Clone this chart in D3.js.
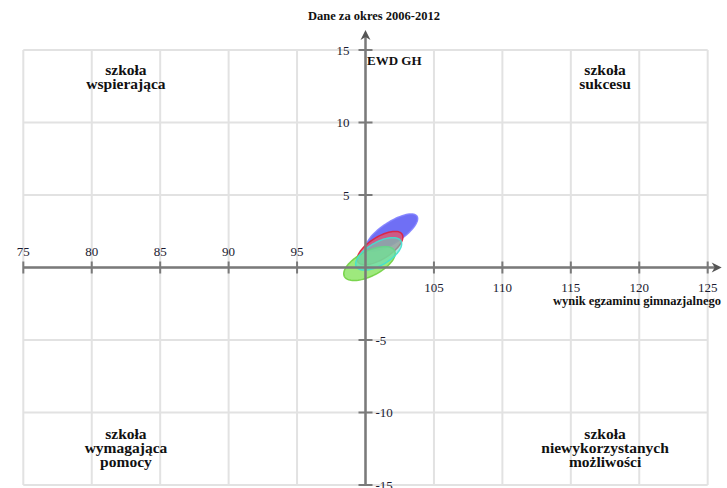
<!DOCTYPE html>
<html><head><meta charset="utf-8">
<script src="https://cdn.jsdelivr.net/npm/d3@7"></script>
<style>
html,body{margin:0;padding:0;background:#fff;}
svg{display:block;font-family:"Liberation Serif","Times New Roman",serif;}
</style></head>
<body>
<svg id="chart" width="727" height="488"></svg>
<script>
// ---- data ----
const title = "Dane za okres 2006-2012";
const yTitle = "EWD GH";
const xTitle = "wynik egzaminu gimnazjalnego";
const xTicks = [75, 80, 85, 90, 95, 100, 105, 110, 115, 120, 125];
const yTicks = [-15, -10, -5, 0, 5, 10, 15];
const quadrantLabels = [
  ["szkoła", "wspierająca"],
  ["szkoła", "sukcesu"],
  ["szkoła", "wymagająca", "pomocy"],
  ["szkoła", "niewykorzystanych", "możliwości"]
];
const quadrantX = [82.5, 117.5, 82.5, 117.5];
const quadrantY = [13.3, 13.3, -11.8, -11.8];
// ellipses: mean exam score, mean EWD, spread x, spread y, correlation
const ellipseMeanX = [101.93, 101.06, 100.96, 100.29];
const ellipseMeanY = [2.41, 1.34, 0.94, 0.27];
const ellipseSdX = [1.88, 1.67, 1.68, 1.88];
const ellipseSdY = [1.28, 1.15, 1.12, 1.17];
const ellipseCorr = [0.75, 0.66, 0.62, 0.6];
const ellipseFill = ["#6767f4", "#e4566c", "#5fd9c4", "#86e45c"];
const ellipseStroke = ["#8080ff", "#e0203c", "#40e0d0", "#70d040"];
const ellipseOpacity = [0.95, 0.8, 0.55, 0.8];
const ellipseOrder = [0, 1, 3, 2];

// ---- chart ----
const svg = d3.select("#chart");
const x = d3.scaleLinear().domain([75, 125]).range([23.3, 707.7]);
const y = d3.scaleLinear().domain([-15, 15]).range([485, 50]);

const grid = svg.append("g").attr("stroke", "#e2e2e2").attr("stroke-width", 2);
xTicks.forEach(t => grid.append("line")
  .attr("x1", x(t)).attr("x2", x(t)).attr("y1", y(15)).attr("y2", y(-15)));
yTicks.forEach(t => grid.append("line")
  .attr("x1", x(75)).attr("x2", x(125)).attr("y1", y(t)).attr("y2", y(t)));

// quadrant labels
quadrantLabels.forEach((lines, i) => {
  const t = svg.append("text")
    .attr("x", x(quadrantX[i])).attr("y", y(quadrantY[i]))
    .attr("text-anchor", "middle").attr("font-weight", "bold")
    .attr("font-size", 15.5).attr("fill", "#111");
  lines.forEach((l, j) => t.append("tspan")
    .attr("x", x(quadrantX[i])).attr("dy", j === 0 ? 0 : 14).text(l));
});

// ellipses
const ts = d3.range(0, 361, 4).map(d => d * Math.PI / 180);
const line = d3.line().x(d => x(d[0])).y(d => y(d[1])).curve(d3.curveLinearClosed);
ellipseOrder.forEach(i => {
  const r = ellipseCorr[i], s = Math.sqrt(1 - r * r);
  const pts = ts.map(t => [
    ellipseMeanX[i] + ellipseSdX[i] * Math.cos(t),
    ellipseMeanY[i] + ellipseSdY[i] * (r * Math.cos(t) + s * Math.sin(t))
  ]);
  svg.append("path").attr("d", line(pts))
    .attr("fill", ellipseFill[i]).attr("fill-opacity", ellipseOpacity[i])
    .attr("stroke", ellipseStroke[i]).attr("stroke-width", 1.5).attr("stroke-opacity", 0.9);
});

// axes
const axisColor = "#7a7a7a";
const ax = svg.append("g");
ax.append("line").attr("x1", x(75)).attr("x2", x(125) + 10)
  .attr("y1", y(0)).attr("y2", y(0)).attr("stroke", axisColor).attr("stroke-width", 2.5);
ax.append("line").attr("x1", x(100)).attr("x2", x(100))
  .attr("y1", y(-15)).attr("y2", y(15) - 14).attr("stroke", axisColor).attr("stroke-width", 2.5);
// arrowheads
const xe = x(125) + 14, ye = y(0);
ax.append("path").attr("d", `M${xe},${ye} L${xe - 10},${ye - 5} L${xe - 7},${ye} L${xe - 10},${ye + 5} Z`).attr("fill", "#555");
const ax0 = x(100), ay0 = y(15) - 20;
ax.append("path").attr("d", `M${ax0},${ay0} L${ax0 - 5},${ay0 + 10} L${ax0},${ay0 + 7} L${ax0 + 5},${ay0 + 10} Z`).attr("fill", "#555");

xTicks.filter(t => t !== 100).forEach(t => {
  ax.append("line").attr("x1", x(t)).attr("x2", x(t)).attr("y1", y(0) - 6).attr("y2", y(0) + 6)
    .attr("stroke", axisColor).attr("stroke-width", 2);
  ax.append("text").attr("x", x(t)).attr("y", t < 100 ? y(0) - 12 : y(0) + 24)
    .attr("text-anchor", "middle").attr("font-size", 13).attr("fill", "#1a1a30").text(t);
});
yTicks.filter(t => t !== 0).forEach(t => {
  ax.append("line").attr("x1", x(100) - 7).attr("x2", x(100) + 7).attr("y1", y(t)).attr("y2", y(t))
    .attr("stroke", axisColor).attr("stroke-width", 2);
  ax.append("text").attr("x", t > 0 ? x(100) - 16 : x(100) + 10).attr("y", y(t) + 4.5)
    .attr("text-anchor", t > 0 ? "end" : "start").attr("font-size", 13).attr("fill", "#1a1a30").text(t);
});

svg.append("text").attr("x", 374).attr("y", 20).attr("text-anchor", "middle")
  .attr("font-weight", "bold").attr("font-size", 12.5).attr("fill", "#111").text(title);
svg.append("text").attr("x", 367).attr("y", 65).attr("font-weight", "bold")
  .attr("font-size", 13).attr("fill", "#111").text(yTitle);
svg.append("text").attr("x", 721).attr("y", 305).attr("text-anchor", "end")
  .attr("font-weight", "bold").attr("font-size", 12.5).attr("fill", "#111").text(xTitle);
</script>
</body></html>
